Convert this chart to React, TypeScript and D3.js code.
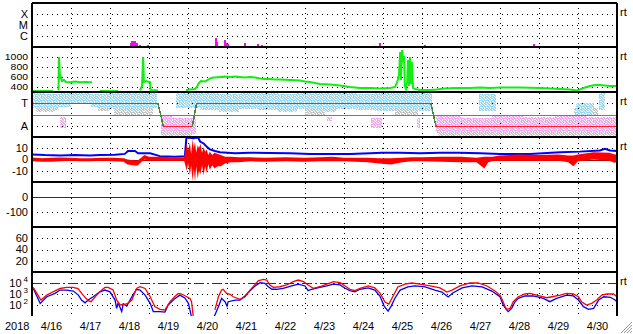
import React from "react";
import * as d3 from "d3";

// ---------------- data ----------------
const dayLabels = ["4/16","4/17","4/18","4/19","4/20","4/21","4/22","4/23","4/24","4/25","4/26","4/27","4/28","4/29","4/30"];
const yearLabel = "2018";
const dayStart = 16;
const dayEnd = 31;

const xrayTicks: [string, number][] = [["X", 1e-4], ["M", 1e-5], ["C", 1e-6]];
const speedTicks = [1000, 800, 600, 400];
const sectorTicks: [string, number][] = [["T", 3], ["A", 1]];
const bzTicks = [10, 0, -10];
const dstTicks = [0, -100];
const kpTicks = [60, 40, 20];
const fluxTicks = [4, 3, 2];

// X-ray flux events [day of April, W/m2]
const xrayFlux: [number, number][] = [
  [18.51, 2.2e-7], [18.54, 3.5e-7], [18.56, 3.4e-7], [18.62, 3.5e-7], [18.67, 2.1e-7], [18.74, 1.45e-7], [18.96, 1.45e-7],
  [20.33, 1.2e-7], [20.41, 1.2e-7], [20.69, 6.8e-7], [20.73, 2.9e-7], [20.77, 1.2e-7], [20.92, 4.2e-7], [20.96, 2.1e-7],
  [21.01, 1.7e-7], [21.05, 1.25e-7], [21.23, 1.25e-7], [21.44, 2.3e-7], [21.69, 1.2e-7], [21.77, 1.8e-7], [21.82, 1.25e-7],
  [21.88, 1.45e-7], [24.9, 2.1e-7], [26.04, 1.55e-7], [28.85, 1.9e-7], [30.54, 1.1e-7], [30.79, 1.2e-7],
];

// solar wind speed [day, km/s] (null = gap)
const speed: [number, number | null][] = [
  [16.0, 320], [16.54, 320], [16.6, null],
  [16.68, 330], [16.69, 1000], [16.72, 560], [16.74, 600], [16.77, 520], [16.82, 540], [16.87, 500], [16.97, 495],
  [17.1, 510], [17.23, 495], [17.36, 500], [17.54, 495], [17.6, null],
  [17.74, 320], [18.21, 320], [18.3, null],
  [18.77, 330], [18.82, 420], [18.85, 1000], [18.87, 500], [18.92, 520], [19.03, 495], [19.04, 340], [19.23, 330], [19.4, null],
  [19.95, 334], [20.05, 350], [20.18, 360], [20.23, 400], [20.28, 480], [20.33, 520], [20.44, 510], [20.51, 540],
  [20.59, 580], [20.67, 590], [20.82, 600], [20.95, 610], [21.08, 600], [21.21, 610], [21.33, 600], [21.46, 590],
  [21.59, 600], [21.72, 590], [21.85, 570], [21.97, 560], [22.1, 560], [22.23, 550], [22.36, 550], [22.62, 540],
  [22.87, 530], [23.0, 510], [23.13, 500], [23.26, 480], [23.38, 460], [23.64, 450], [23.9, 430], [24.15, 400],
  [24.41, 380], [24.67, 380], [24.92, 370], [25.18, 380], [25.31, 400], [25.38, 540], [25.41, 640], [25.44, 1100],
  [25.46, 540], [25.49, 1140], [25.51, 900], [25.54, 1020], [25.56, 420], [25.59, 360], [25.62, 500], [25.64, 940],
  [25.67, 420], [25.69, 1000], [25.72, 460], [25.74, 900], [25.77, 380], [25.82, 360], [25.95, 340], [26.21, 340],
  [26.38, 350], [26.59, 370], [26.85, 380], [27.23, 380], [27.49, 390], [27.74, 380], [28.0, 390], [28.51, 390],
  [29.03, 380], [29.28, 370], [29.54, 360], [29.79, 350], [29.97, 330], [30.05, 350], [30.18, 390], [30.31, 420],
  [30.44, 440], [30.56, 440], [30.69, 430], [30.82, 420], [31.0, 420],
];

// IMF sector polarity knots [day, level] (3 = T, 1 = A)
const sectorPolarity: [number, number][] = [
  [16.0, 3], [19.23, 3], [19.37, 1], [20.11, 1], [20.22, 3], [26.23, 3], [26.36, 1], [31.0, 1],
];

// IMF phi scatter clusters [day0, day1, lo, hi]
const phiToward: [number, number, number, number][] = [
  [16.0, 16.3, 2.6, 3.9], [16.3, 16.7, 2.4, 3.8], [16.7, 17.0, 2.7, 3.9], [17.0, 17.5, 2.9, 3.9], [17.5, 17.9, 2.7, 3.8],
  [17.9, 18.4, 2.5, 3.9], [18.4, 18.8, 2.3, 3.9], [18.8, 19.2, 2.6, 3.9],
  [19.7, 20.3, 2.6, 3.9], [20.3, 20.8, 2.4, 3.9], [20.8, 21.3, 2.2, 3.8], [21.3, 21.8, 2.5, 3.9], [21.8, 22.3, 2.4, 3.9],
  [22.3, 22.8, 2.2, 3.8], [22.8, 23.3, 2.5, 3.9], [23.3, 23.8, 2.2, 3.9], [23.8, 24.3, 2.5, 3.9], [24.3, 24.8, 2.4, 3.8],
  [24.8, 25.3, 2.3, 3.9], [25.3, 25.8, 2.5, 3.9], [25.8, 26.25, 2.3, 3.9],
  [27.45, 27.9, 2.3, 3.8], [29.95, 30.4, 1.95, 3.0], [30.55, 30.7, 2.4, 3.9],
];
const phiAway: [number, number, number, number][] = [
  [16.72, 16.87, 0.8, 1.78], [19.3, 19.6, 0.5, 1.9], [19.6, 20.2, 0.3, 1.7], [23.56, 23.7, 1.4, 1.75],
  [24.7, 24.97, 0.8, 1.7], [25.87, 25.95, 0.8, 1.7], [26.36, 27.0, 0.4, 1.9], [27.0, 27.8, 0.3, 1.7],
  [27.8, 28.6, 0.4, 1.95], [28.6, 29.4, 0.3, 1.8], [29.4, 30.2, 0.5, 1.9], [30.2, 31.0, 0.3, 1.8],
];
const phiOther: [number, number, number, number][] = [
  [16.1, 16.6, 2.2, 2.9], [17.7, 18.0, 2.3, 2.7], [18.1, 19.1, 2.0, 2.8], [19.3, 20.1, 0.1, 1.2],
  [23.0, 23.5, 2.0, 2.5], [25.3, 25.9, 2.0, 2.6], [26.4, 31.0, 0.1, 0.8], [29.9, 30.5, 2.0, 2.6],
];

// IMF |B| [day, nT]
const btTotal: [number, number][] = [
  [16.0, 4.5], [16.33, 3.9], [16.72, 3.5], [17.1, 4], [17.49, 3.5], [17.74, 4], [18.13, 4.2], [18.38, 5],
  [18.46, 7.5], [18.64, 7.5], [18.72, 5.5], [19.03, 5.5], [19.28, 3], [19.67, 2.5], [19.92, 3], [19.96, 19.7],
  [20.13, 19], [20.26, 19.5], [20.31, 16], [20.41, 14], [20.49, 11], [20.56, 9], [20.69, 7.5], [20.82, 6.5],
  [21.21, 5.5], [21.59, 6], [22.1, 5.8], [22.62, 5.5], [23.13, 5], [23.64, 5], [24.15, 5], [24.67, 5.5],
  [24.97, 6], [25.44, 6], [25.95, 5.5], [26.46, 6], [26.97, 6], [27.49, 5.5], [28.0, 5], [28.77, 5],
  [29.54, 6.5], [30.05, 7], [30.56, 8], [30.69, 9.5], [30.82, 8], [31.0, 7.5],
];

// IMF Bz envelope [day, min, max] nT
const bzRange: [number, number, number][] = [
  [16.0, -1.5, 1.8], [16.25, -2, 1.2], [16.5, -2, 1.5], [16.72, -1.6, 1.8], [17.0, -1.2, 1.5], [17.25, -1.6, 1.2],
  [17.5, -1.6, 1.2], [17.8, -1.2, 1.5], [18.1, -1.6, 1.5], [18.35, -2, 1.2], [18.45, -4.5, 0], [18.7, -5.5, -1],
  [18.8, -2.5, 1.5], [18.88, 0, 4], [19.0, -1, 2.5], [19.3, -1.2, 2.5], [19.6, -1.2, 2], [19.9, -1.2, 2],
  [19.97, -10, 14], [20.0, -3, 8], [20.05, -14, 15], [20.08, -5, 5], [20.12, -19, 18], [20.15, -8, 10],
  [20.18, -20, 16], [20.21, -6, 6], [20.25, -17, 13], [20.28, -10, 10], [20.32, -13, 14], [20.36, -5, 6],
  [20.4, -14, 11], [20.44, -6, 7], [20.48, -12, 9], [20.52, -4, 4], [20.56, -9, 7], [20.62, -5, 4],
  [20.68, -8, 6], [20.76, -6, 5], [20.84, -6, 4], [20.95, -3.5, 2.5], [21.1, -2.5, 2.5], [21.3, -2.5, 2],
  [21.6, -1.6, 2], [22.0, -2, 1.5], [22.5, -1.6, 2], [23.0, -2, 1.5], [23.4, -1.6, 2], [23.7, -1.6, 2.5],
  [24.0, -1.6, 1.5], [24.3, -2, 1.5], [24.6, -2.5, 1.5], [24.9, -3.5, 1.2], [25.2, -4.5, 1.2], [25.5, -2.5, 1.5],
  [25.75, -1.6, 2], [26.0, -1.6, 2], [26.5, -2, 2.5], [27.0, -2.5, 2.5], [27.4, -2.5, 1.5], [27.6, -8, 2.5],
  [27.7, -2.5, 2.5], [27.8, -1.6, 2.5], [28.0, -1, 3.5], [28.5, -1.2, 4.5], [29.0, -1, 4], [29.5, -1.2, 4.5],
  [29.75, -2.5, 3.5], [29.88, -6, 3.5], [30.0, -1.6, 4.5], [30.4, 0, 6.5], [30.8, -1, 6], [30.95, -3, 4.5], [31.0, -1, 4.5],
];

// electron flux, log10 [day, log10 flux] (null = gap)
const fluxRed: [number, number | null][] = [
  [16.03, 3.61], [16.21, 2.55], [16.23, 2.45], [16.38, 2.9], [16.54, 3.2], [16.72, 3.5], [16.89, 3.6], [17.05, 3.6],
  [17.18, 3.5], [17.31, 2.9], [17.44, 2.4], [17.51, 2.3], [17.66, 2.9], [17.79, 3.36], [17.87, 3.6], [17.95, 3.6],
  [18.08, 3.36], [18.17, 2.45], [18.26, 2.0], [18.43, 2.1], [18.56, 2.45], [18.68, 3.5], [18.77, 3.66], [18.9, 3.5],
  [19.03, 2.75], [19.15, 1.85], [19.28, 1.6], [19.41, 1.55], [19.54, 2.3], [19.67, 2.8], [19.75, 3.05], [19.84, 3.0],
  [19.97, 2.75], [20.05, 2.6], [20.09, 2.3], [20.14, 0.8], [20.4, null],
  [20.69, 1.55], [20.78, 2.75], [20.86, 3.36], [20.9, 3.43], [20.99, 3.06], [21.08, 2.97], [21.16, 2.75], [21.33, 2.52],
  [21.46, 2.73], [21.55, 3.2], [21.67, 3.66], [21.8, 4.2], [21.93, 4.33], [22.02, 4.27], [22.1, 3.82], [22.19, 3.6],
  [22.36, 3.66], [22.53, 3.82], [22.7, 4.12], [22.83, 4.27], [22.96, 4.12], [23.08, 3.82], [23.21, 3.52], [23.38, 3.66],
  [23.56, 3.9], [23.73, 4.12], [23.9, 4.03], [24.03, 3.73], [24.15, 3.43], [24.28, 3.3], [24.41, 3.52], [24.62, 3.73],
  [24.79, 3.55], [24.92, 3.1], [25.05, 2.27], [25.15, 2.09], [25.26, 2.82], [25.38, 3.64], [25.56, 3.9], [25.74, 4.0],
  [25.95, 3.9], [26.21, 3.73], [26.46, 3.55], [26.64, 3.18], [26.77, 3.36], [26.97, 3.73], [27.23, 4.0], [27.44, 4.0],
  [27.67, 3.73], [27.87, 3.27], [28.0, 2.9], [28.08, 2.3], [28.13, 1.85], [28.17, 1.6], [28.26, 1.7], [28.34, 2.3],
  [28.47, 2.75], [28.64, 3.0], [28.77, 3.06], [28.94, 2.9], [29.2, 2.66], [29.33, 2.75], [29.54, 2.9], [29.71, 3.06],
  [29.88, 3.0], [30.01, 2.75], [30.09, 2.3], [30.22, 2.0], [30.35, 2.15], [30.48, 2.45], [30.61, 2.9], [30.74, 3.0],
  [30.91, 3.0], [31.0, 2.75],
];
const fluxBlue: [number, number | null][] = [
  [16.03, 3.52], [16.19, 2.3], [16.21, 2.15], [16.38, 2.75], [16.59, 3.06], [16.72, 3.36], [16.89, 3.36], [17.06, 3.27],
  [17.19, 2.9], [17.27, 2.45], [17.36, 2.2], [17.44, 2.45], [17.57, 2.75], [17.74, 3.2], [17.87, 3.36], [18.0, 3.2],
  [18.13, 2.45], [18.17, 1.7], [18.21, 2.18], [18.3, 1.4], [18.34, 2.1], [18.43, 1.9], [18.56, 2.75], [18.68, 3.43],
  [18.77, 3.36], [18.9, 2.9], [19.03, 2.15], [19.11, 1.4], [19.28, 1.4], [19.41, 1.36], [19.49, 2.0], [19.67, 2.6],
  [19.79, 2.9], [19.92, 2.64], [20.01, 2.15], [20.05, 1.55], [20.09, 0.9], [20.3, null],
  [20.65, 0.8], [20.69, 1.1], [20.78, 1.85], [20.86, 2.6], [20.95, 2.3], [21.0, 1.9], [21.03, 2.3], [21.21, 2.45],
  [21.33, 2.45], [21.46, 2.82], [21.59, 3.3], [21.72, 3.73], [21.85, 4.03], [21.97, 3.97], [22.06, 3.66], [22.15, 3.43],
  [22.27, 3.43], [22.44, 3.52], [22.66, 3.73], [22.83, 3.9], [23.0, 3.73], [23.08, 3.3], [23.17, 3.43], [23.38, 3.6],
  [23.56, 3.73], [23.73, 3.9], [23.9, 3.82], [24.03, 3.52], [24.15, 3.3], [24.28, 3.2], [24.41, 3.43], [24.62, 3.55],
  [24.79, 3.36], [24.92, 2.82], [25.03, 1.9], [25.13, 1.45], [25.21, 1.9], [25.31, 2.64], [25.44, 3.36], [25.64, 3.64],
  [25.82, 3.73], [26.08, 3.64], [26.33, 3.36], [26.51, 3.18], [26.67, 2.73], [26.79, 3.09], [27.03, 3.55], [27.28, 3.73],
  [27.54, 3.64], [27.79, 3.27], [28.0, 2.75], [28.08, 2.0], [28.17, 1.55], [28.21, 1.4], [28.3, 1.7], [28.38, 2.27],
  [28.47, 2.6], [28.64, 2.82], [28.85, 2.82], [29.11, 2.6], [29.28, 2.3], [29.45, 2.6], [29.71, 2.9], [29.88, 2.82],
  [30.01, 2.45], [30.14, 1.85], [30.27, 1.6], [30.4, 1.7], [30.53, 2.45], [30.66, 2.75], [30.83, 2.7], [30.95, 2.45],
  [31.0, 2.3],
];

// ---------------- layout ----------------
const W = 633;
const H = 334;
const LEFT = 32;
const RIGHT = 617;
const panelTops = [3, 47, 92, 137, 182, 227, 272];
const BOTTOM = 316;
const FONT = "'Liberation Sans', Arial, Helvetica, sans-serif";
const speckle: [number, number, number][] = [
  [0, 0, 2], [3, 0, 1], [5, 0, 1], [1, 1, 2], [4, 1, 2], [0, 2, 1], [2, 2, 2], [5, 2, 1],
  [1, 3, 1], [3, 3, 2], [0, 4, 2], [2, 4, 1], [4, 4, 2], [2, 5, 2], [5, 5, 1],
];

export default function App() {
  const x = d3.scaleLinear().domain([dayStart, dayEnd]).range([LEFT, RIGHT]);
  const yX = d3.scaleLog().domain([1e-7, 1e-3]).range([47, 3]);
  const ySp = d3.scaleLinear().domain([300, 1200]).range([92, 47]);
  const ySec = d3.scaleLinear().domain([0, 4]).range([137, 92]);
  const yBz = d3.scaleLinear().domain([-20, 20]).range([182, 137]);
  const yDst = d3.scaleLinear().domain([-200, 100]).range([227, 182]);
  const yKp = d3.scaleLinear().domain([0, 80]).range([272, 227]);
  const yFl = d3.scaleLog().domain([10, 1e5]).range([BOTTOM, 272]);

  const speedLine = d3.line<[number, number | null]>()
    .defined((d) => d[1] !== null)
    .x((d) => x(d[0]))
    .y((d) => ySp(d[1] as number));
  const btLine = d3.line<[number, number]>().x((d) => x(d[0])).y((d) => yBz(d[1]));
  const bzArea = d3.area<[number, number, number]>()
    .x((d) => x(d[0]))
    .y0((d) => yBz(d[1]))
    .y1((d) => yBz(d[2]));
  const fluxLine = d3.line<[number, number | null]>()
    .defined((d) => d[1] !== null)
    .x((d) => x(d[0]))
    .y((d) => yFl(Math.pow(10, d[1] as number)));

  const days = d3.range(dayStart + 1, dayEnd);
  const px = (v: number) => Math.round(v) + 0.5;

  const hDots: number[] = [
    ...xrayTicks.map((t) => yX(t[1])),
    ...speedTicks.map((t) => ySp(t)),
    ...sectorTicks.map((t) => ySec(t[1])),
    yBz(10), yBz(-10),
    yDst(-100),
    ...kpTicks.map((t) => yKp(t)),
    yFl(1e3), yFl(1e2),
  ];

  const leftLabels: [string, number, number][] = [
    ...xrayTicks.map((t) => [t[0], yX(t[1]), 11] as [string, number, number]),
    ...speedTicks.map((t) => [String(t), ySp(t), 9] as [string, number, number]),
    ...sectorTicks.map((t) => [t[0], ySec(t[1]), 11] as [string, number, number]),
    ...bzTicks.map((t) => [String(t), yBz(t), 11] as [string, number, number]),
    ...dstTicks.map((t) => [String(t), yDst(t), 11] as [string, number, number]),
    ...kpTicks.map((t) => [String(t), yKp(t), 11] as [string, number, number]),
  ];

  const rtPanels = [0, 1, 2, 3, 6];

  const segColor = (a: number, b: number) =>
    a === 3 && b === 3 ? "#3f5cff" : a === 1 && b === 1 ? "#ff2020" : "#3f8a3f";

  const bandRects = (bands: [number, number, number, number][], fill: string) =>
    bands.map((b, i) => (
      <rect key={i} x={x(b[0])} width={x(b[1]) - x(b[0])} y={ySec(b[3])} height={ySec(b[2]) - ySec(b[3])} fill={fill} />
    ));

  return (
    <svg width={W} height={H} style={{ position: "absolute", left: 0, top: 0, background: "#fff" }} fontFamily={FONT}>
      <defs>
        {[["spkB", "#98d8f0"], ["spkP", "#f0a6ee"], ["spkG", "#c6c6c6"]].map(([id, c]) => (
          <pattern key={id} id={id} width={6} height={6} patternUnits="userSpaceOnUse">
            {speckle.map(([sx, sy, sw], j) => (
              <rect key={j} x={sx} y={sy} width={sw} height={1} fill={c} />
            ))}
          </pattern>
        ))}
        {panelTops.map((t, i) => (
          <clipPath key={i} id={`clip${i}`}>
            <rect x={LEFT} y={t} width={RIGHT - LEFT} height={(i < 6 ? panelTops[i + 1] : BOTTOM) - t} />
          </clipPath>
        ))}
      </defs>

      {/* grid */}
      <g stroke="#000" strokeWidth={1} strokeDasharray="1 4" shapeRendering="crispEdges">
        {days.map((d) => (
          <line key={d} x1={px(x(d))} x2={px(x(d))} y1={panelTops[0]} y2={BOTTOM} />
        ))}
        {hDots.map((y, i) => (
          <line key={i} x1={LEFT} x2={RIGHT} y1={px(y)} y2={px(y)} />
        ))}
      </g>

      {/* panel 1: x-ray */}
      <g clipPath="url(#clip0)" fill="#ff00ff" shapeRendering="crispEdges">
        {xrayFlux.map((d, i) => (
          <rect key={i} x={Math.round(x(d[0]))} width={2} y={yX(d[1])} height={47 - yX(d[1])} />
        ))}
      </g>

      {/* panel 2: speed */}
      <g clipPath="url(#clip1)">
        <path d={speedLine(speed) || ""} fill="none" stroke="#11ee11" strokeWidth={2} />
      </g>

      {/* panel 3: sector */}
      <g clipPath="url(#clip2)" shapeRendering="crispEdges">
        {bandRects(phiOther, "url(#spkG)")}
        {bandRects(phiToward, "url(#spkB)")}
        {bandRects(phiAway, "url(#spkP)")}
        <line x1={LEFT} x2={RIGHT} y1={px(ySec(2))} y2={px(ySec(2))} stroke="#7a7a7a" strokeWidth={1.5} />
        {sectorPolarity.slice(1).map((b, i) => {
          const a = sectorPolarity[i];
          return (
            <line key={i} x1={x(a[0])} y1={px(ySec(a[1]))} x2={x(b[0])} y2={px(ySec(b[1]))}
              stroke={segColor(a[1], b[1])} strokeWidth={1.5} />
          );
        })}
      </g>

      {/* panel 4: IMF */}
      <g clipPath="url(#clip3)">
        <line x1={LEFT} x2={RIGHT} y1={px(yBz(0))} y2={px(yBz(0))} stroke="#a00000" strokeWidth={1.5} shapeRendering="crispEdges" />
        <path d={btLine(btTotal) || ""} fill="none" stroke="#0000ff" strokeWidth={2} />
        <path d={bzArea(bzRange) || ""} fill="#ff0000" />
      </g>

      {/* panel 5: Dst */}
      <g clipPath="url(#clip4)">
        <line x1={LEFT} x2={RIGHT} y1={px(yDst(0))} y2={px(yDst(0))} stroke="#a00000" strokeWidth={1.5} shapeRendering="crispEdges" />
      </g>

      {/* panel 7: electron flux */}
      <g clipPath="url(#clip6)">
        <line x1={LEFT} x2={RIGHT} y1={px(yFl(1e4))} y2={px(yFl(1e4))} stroke="#a00000" strokeWidth={1.5}
          strokeDasharray="10 3 2 3" shapeRendering="crispEdges" />
        <path d={fluxLine(fluxBlue) || ""} fill="none" stroke="#0000ff" strokeWidth={1.3} />
        <path d={fluxLine(fluxRed) || ""} fill="none" stroke="#ff0000" strokeWidth={1.3} />
      </g>

      {/* frame */}
      <g stroke="#000" strokeWidth={2} shapeRendering="crispEdges">
        {panelTops.map((t, i) => (
          <line key={i} x1={LEFT} x2={RIGHT} y1={t} y2={t} />
        ))}
        <line x1={LEFT} x2={LEFT} y1={panelTops[0]} y2={BOTTOM} />
        <line x1={RIGHT} x2={RIGHT} y1={panelTops[0]} y2={BOTTOM} />
      </g>

      {/* left labels */}
      <g textAnchor="end" fill="#000">
        {leftLabels.map(([s, y, fs], i) => (
          <text key={i} x={28} y={y + fs * 0.36} fontSize={fs}
            textLength={fs === 9 ? s.length * 5.8 : undefined} lengthAdjust="spacingAndGlyphs">{s}</text>
        ))}
        {fluxTicks.map((e) => (
          <text key={e} x={28} y={yFl(Math.pow(10, e)) + 4} fontSize={11}>
            10<tspan dx={2} dy={-5} fontSize={8}>{e}</tspan>
          </text>
        ))}
      </g>

      {/* right markers */}
      <g fontSize={11} fill="#000">
        {rtPanels.map((p) => (
          <text key={p} x={620} y={panelTops[p] + 13}>rt</text>
        ))}
      </g>

      {/* bottom labels */}
      <g fontSize={11} fill="#000">
        <text x={5} y={330}>{yearLabel}</text>
        {dayLabels.map((s, i) => (
          <text key={s} x={x(dayStart + i + 0.5)} y={330} textAnchor="middle">{s}</text>
        ))}
      </g>

      {/* resize grip */}
      <g stroke="#9a9a9a" strokeWidth={1}>
        {[0, 1, 2, 3].map((k) => (
          <line key={k} x1={621 + k * 3} y1={333} x2={632} y2={322 + k * 3} />
        ))}
      </g>
    </svg>
  );
}
